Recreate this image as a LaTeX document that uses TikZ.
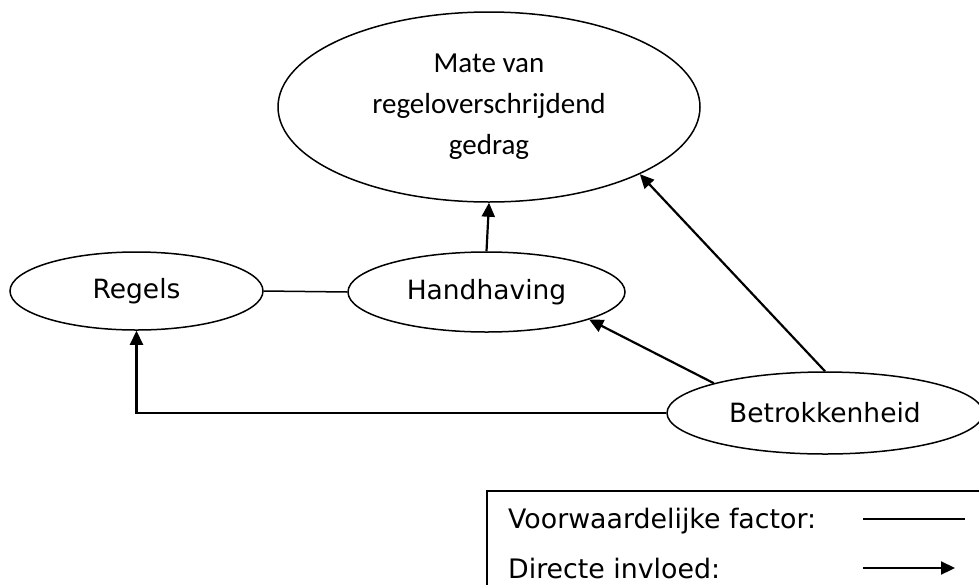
\documentclass[tikz,border=0pt]{standalone}
\usepackage{fontspec}
\setmainfont{DejaVu Sans}
\newfontfamily\calfont{Carlito}
\usetikzlibrary{shapes.geometric,arrows.meta}
\begin{document}
\begin{tikzpicture}[x=1pt,y=-1pt,
  oval/.style={draw,ellipse,line width=1.5pt,inner sep=0pt,
    font=\fontsize{26.5}{30}\selectfont},
  thinline/.style={line width=1.5pt},
  influence/.style={line width=2.2pt,-{Triangle[length=14pt,width=13pt]}},
  legtext/.style={anchor=base west,inner sep=0pt,font=\fontsize{26.8}{30}\selectfont}]
\useasboundingbox (0,0) rectangle (979,584);
\node[oval,minimum width=422pt,minimum height=190pt,align=center,
  font=\calfont\fontsize{29}{41}\selectfont] (mate) at (489,107)
  {Mate van\\regeloverschrijdend\\gedrag};
\node[oval,minimum width=253pt,minimum height=78pt] (regels) at (136.5,291) {Regels};
\node[oval,minimum width=277pt,minimum height=80pt] (hand) at (486.5,292) {Handhaving};
\node[oval,minimum width=316pt,minimum height=82pt] (betrok) at (825,413) {Betrokkenheid};
\draw[thinline] (regels.east) -- (hand.west);
\draw[influence] (hand.north) -- (mate.south);
\draw[influence] (betrok.north) -- (mate.-24);
\draw[influence] (betrok.165) -- (hand.-15);
\draw[influence] (betrok.west) -| (regels.south);
% legend
\draw[line width=2pt] (487,491) rectangle (990,600);
\node[legtext] (l1) at (508,528) {Voorwaardelijke factor:};
\node[legtext] (l2) at (508,578) {Directe invloed:};
\coordinate (a1) at (863,519);
\coordinate (b1) at (965,519);
\coordinate (a2) at (863,568);
\coordinate (b2) at (955,568);
\draw[thinline] (a1) -- (b1);
\draw[influence] (a2) -- (b2);
\end{tikzpicture}
\end{document}
